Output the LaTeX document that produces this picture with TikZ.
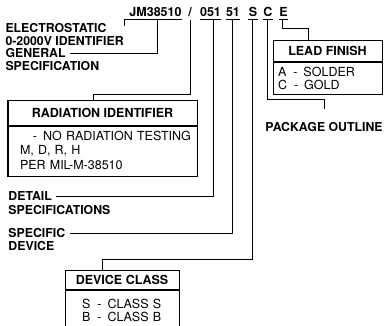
\documentclass[tikz,border=0pt]{standalone}
\usepackage{fontspec}
\setmainfont{TeX Gyre Heros}
\usepackage{tikz}
\usetikzlibrary{positioning}

\newcommand{\pick}[2]{\mbox{#1\hspace{7pt}-\hspace{6pt}#2}}

\begin{document}
\begin{tikzpicture}[x=1pt, y=-1pt, line width=1pt,
  every node/.style={font=\fontsize{12.5}{13.5}\selectfont},
  code/.style={font=\fontsize{12.5}{14}\selectfont\bfseries, inner xsep=0pt, inner ysep=3pt, text depth=0pt, anchor=south},
  lbl/.style={font=\fontsize{12.3}{14}\selectfont\bfseries, inner xsep=4pt, inner ysep=0pt, anchor=base west},
  headbox/.style={draw, font=\fontsize{12.5}{14}\selectfont\bfseries, anchor=north, inner sep=0pt},
  bodybox/.style={draw, align=left, anchor=north, inner ysep=0pt}]
\useasboundingbox (0,0) rectangle (384,326);
% Part number
\node[code] (jm) at (155.5,20) {JM38510};
\node[code] (slash) at (190,20) {/};
\node[code] (n051) at (210.5,20) {051};
\node[code] (n51) at (233,20) {51};
\node[code] (s) at (253,20) {S};
\node[code] (c) at (268,20) {C};
\node[code] (e) at (283.5,20) {E};
\foreach \n in {jm,n051,n51,s,c,e}
  \draw (\n.south west) -- (\n.south east);
% Left labels
\node[lbl] (esd) at (1,33) {ELECTROSTATIC};
\node[lbl] (esd2) at (1,46) {0-2000V IDENTIFIER};
\coordinate (jtick) at (124,26);
\draw (jm.south west) -| (jtick);
\node[lbl] (gen) at (1,58) {GENERAL};
\node[lbl] (gen2) at (1,71) {SPECIFICATION};
\draw (gen.east) -| ([xshift=1.5pt]jm.south);
\node[lbl] (det) at (4,201) {DETAIL};
\node[lbl] (det2) at (4,215) {SPECIFICATIONS};
\draw (det.east) -| ([xshift=2.5pt]n051.south);
\node[lbl] (spc) at (4,238) {SPECIFIC};
\node[lbl] (spc2) at (4,251) {DEVICE};
\draw (spc.east) -| ([xshift=-1pt]n51.south);
% Radiation identifier
\node[headbox, minimum width=189pt, minimum height=25pt] (radh) at (102.5,100) {RADIATION IDENTIFIER};
\node[bodybox, font=\fontsize{12.5}{14.5}\selectfont, minimum width=189pt, minimum height=50pt, inner xsep=12pt, text width=165pt] (radb) at (radh.south)
  {\mbox{\hspace*{13pt}-\hspace{6pt}NO RADIATION TESTING}\\M, D, R, H\\PER MIL-M-38510\vphantom{g}};
\draw (slash.south) -- ++(0,75) -| ([xshift=-9.5pt]radh.north);
% Device class
\node[headbox, minimum width=114pt, minimum height=19pt] (devh) at (122,270) {DEVICE CLASS};
\node[bodybox, minimum width=114pt, minimum height=40pt, inner xsep=17pt, text width=80pt] (devb) at (devh.south)
  {\pick{S}{CLASS S}\\\pick{B}{CLASS B}};
\draw ([xshift=-1pt]s.south) -- ++(0,240) -| ([xshift=-20pt]devh.north);
% Package outline
\node[lbl, anchor=base] (pkg) at (324,132) {PACKAGE OUTLINE};
\draw ([xshift=-1pt]c.south) -- ++(0,80) -| ([yshift=13pt]pkg.north);
% Lead finish
\node[headbox, minimum width=109pt, minimum height=21pt] (leadh) at (327.5,40) {LEAD FINISH};
\node[bodybox, minimum width=109pt, minimum height=32pt, inner xsep=5pt, text width=99pt] (leadb) at (leadh.south)
  {\pick{A}{SOLDER}\\\pick{C}{GOLD}};
\draw ([xshift=-1.5pt]e.south) -- ++(0,9) -| ([xshift=-19.5pt]leadh.north);
\end{tikzpicture}
\end{document}
